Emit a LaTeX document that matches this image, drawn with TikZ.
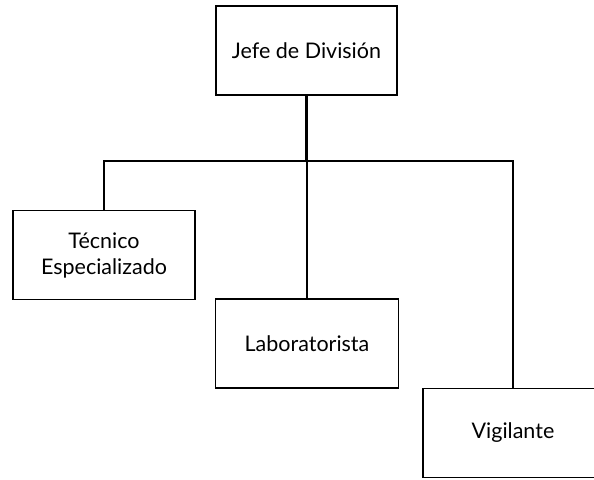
\documentclass[tikz,border=0pt]{standalone}
\usepackage{fontspec}
\setmainfont{Lato}
\usepackage{tikz}
\usetikzlibrary{positioning}

\tikzset{
  puesto/.style={draw, line width=1.3pt, minimum width=#1, minimum height=89pt,
    align=center, inner sep=0pt, font=\fontsize{21.5}{26}\selectfont},
  puesto/.default=182pt,
  enlace/.style={line width=2.6pt}
}

\begin{document}
\begin{tikzpicture}[x=1pt, y=-1pt]
  \useasboundingbox (0,0) rectangle (594,479);
  % cajas
  \node[puesto=181pt] (jefe) at (306.5,50.5) {Jefe de Divisi\'on};
  \node[puesto] (tecnico) at (104,255) {T\'ecnico\\Especializado};
  \node[puesto=183pt] (lab) at (307,343.5) {Laboratorista};
  \node[puesto=180pt] (vig) at (513,433) {Vigilante};
  % lineas
  \coordinate (bus) at (jefe.south |- 0,161);
  \draw[enlace] (jefe.south) -- (bus);
  \draw[enlace] (tecnico.north) |- (bus) -| (vig.north);
  \draw[enlace] (lab.north) -- (lab.north |- bus);
\end{tikzpicture}
\end{document}
